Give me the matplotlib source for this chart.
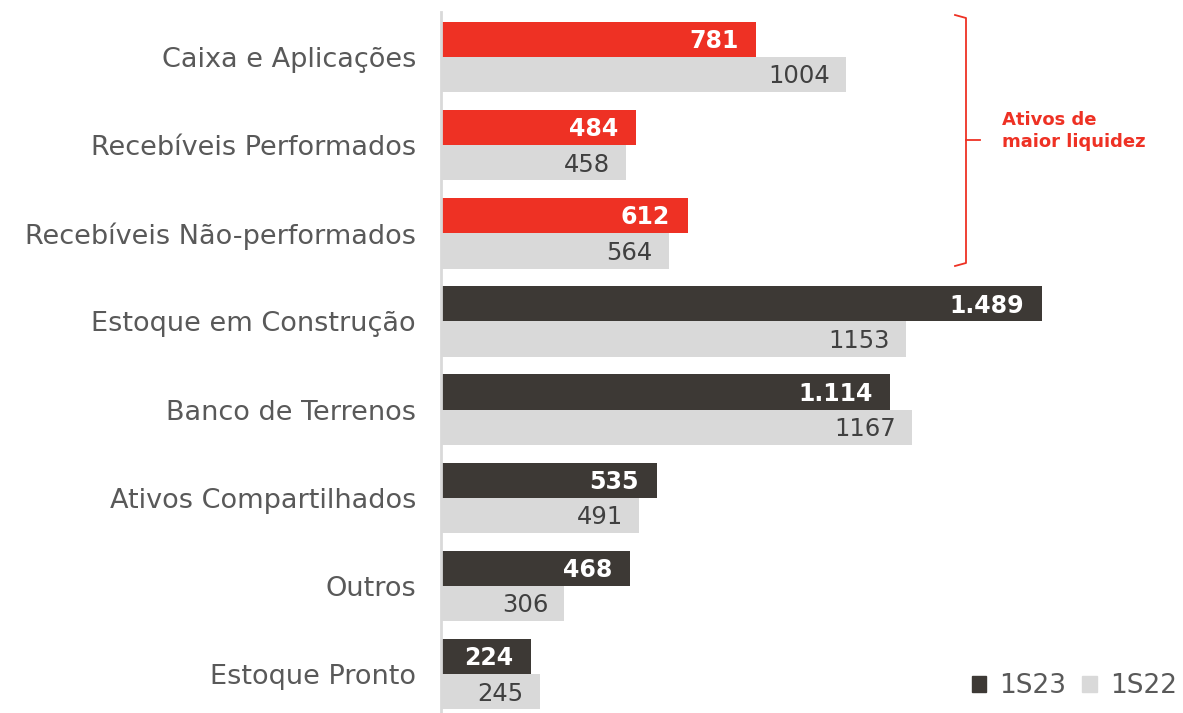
import matplotlib
matplotlib.use("Agg")
import matplotlib.pyplot as plt
from matplotlib.patches import Patch

categories = ["Caixa e Aplicações", "Recebíveis Performados", "Recebíveis Não-performados",
              "Estoque em Construção", "Banco de Terrenos", "Ativos Compartilhados",
              "Outros", "Estoque Pronto"]
s23 = [781, 484, 612, 1489, 1114, 535, 468, 224]
s23_labels = ["781", "484", "612", "1.489", "1.114", "535", "468", "224"]
s22 = [1004, 458, 564, 1153, 1167, 491, 306, 245]
s22_labels = ["1004", "458", "564", "1153", "1167", "491", "306", "245"]
highlight = [True, True, True, False, False, False, False, False]

RED = "#EE3124"
DARK = "#3D3935"
GREY = "#D9D9D9"
TXT = "#595959"

plt.rcParams['font.family'] = ['DejaVu Sans']

fig = plt.figure(figsize=(11.83, 7.13), dpi=100)
ax = fig.add_axes([441/1183, 0.0, 1 - 441/1183, 1 - 12/713])

h = 0.4
for i, (a, b) in enumerate(zip(s23, s22)):
    c = RED if highlight[i] else DARK
    ax.barh(i - h/2, a, height=h, color=c, edgecolor='none')
    ax.barh(i + h/2, b, height=h, color=GREY, edgecolor='none')
    ax.text(a - 44, i - h/2 + 0.02, s23_labels[i], ha='right', va='center', color='white',
            fontsize=17, fontweight='bold')
    ax.text(b - 40, i + h/2 + 0.02, s22_labels[i], ha='right', va='center', color='#404040',
            fontsize=17.5)

ax.set_xlim(0, 742/0.4034)
ax.set_ylim(7.44, -0.51)
ax.set_yticks(range(len(categories)))
ax.set_yticklabels(categories, fontsize=19.5, color=TXT, va='center_baseline')
ax.tick_params(axis='y', length=0, pad=18)
ax.set_xticks([])
for s in ['top', 'right', 'bottom']:
    ax.spines[s].set_visible(False)
ax.spines['left'].set_color(GREY)
ax.spines['left'].set_linewidth(2)

# bracket
fig.lines.append(plt.Line2D([955/1183, 966/1183, 966/1183, 955/1183],
                            [1-15/713, 1-18/713, 1-263/713, 1-266/713],
                            transform=fig.transFigure, color=RED, lw=1.3))
fig.lines.append(plt.Line2D([966/1183, 980/1183], [1-140/713, 1-140/713],
                            transform=fig.transFigure, color=RED, lw=1.3))
fig.text(1002/1183, 1-131/713, "Ativos de\nmaior liquidez", color=RED, fontsize=13,
         fontweight='bold', ha='left', va='center', linespacing=1.35)

handles = [Patch(color=DARK, label="1S23"), Patch(color=GREY, label="1S22")]
fig.legend(handles=handles, loc='lower right', bbox_to_anchor=(1.015, -0.014), ncol=2,
           frameon=False, fontsize=19, labelcolor=TXT, handlelength=0.55, handleheight=0.55,
           handletextpad=0.5, columnspacing=0.6)

fig.savefig("out.png", dpi=100)
